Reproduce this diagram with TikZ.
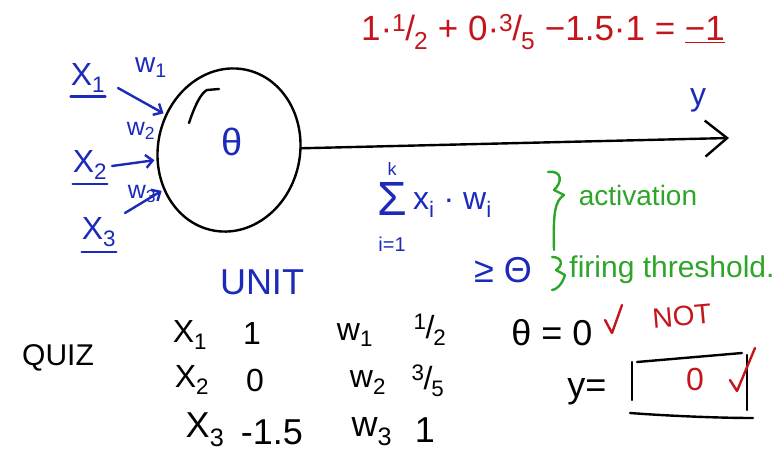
\documentclass[tikz,border=0pt]{standalone}
\usepackage{fontspec}
\setmainfont{Liberation Sans}
\usepackage{xcolor}
\usetikzlibrary{arrows.meta,shapes.geometric}

\definecolor{penblue}{RGB}{28,42,185}
\definecolor{penred}{RGB}{195,22,28}
\definecolor{pengreen}{RGB}{45,165,40}
\newcommand\hw[1]{\fontsize{#1}{#1}\selectfont}
\newcommand\slfrac[2]{\textsuperscript{#1}\kern-1pt/\kern-1pt\textsubscript{#2}}

\begin{document}
\begin{tikzpicture}[
  x=1pt,y=-1pt,
  ink/.style={line width=2.4pt,line cap=round,line join=round},
  txt/.style={inner sep=0pt,font=\hw{32}},
  bluetxt/.style={txt,text=penblue},
  redtxt/.style={txt,text=penred},
  greentxt/.style={txt,text=pengreen},
  inarr/.style={ink,penblue,shorten >=2pt,-{Straight Barb[length=7pt,width=13pt]}},
  outarr/.style={ink,-{Straight Barb[length=22pt,width=36pt]}},
  unit/.style={draw,ink,ellipse,minimum width=142pt,minimum height=164pt,rotate=-12}
]
\useasboundingbox (0,0) rectangle (782,455);

% the unit
\node[unit] (cell) at (229,150) {};
\node[bluetxt,font=\hw{38}] (theta) at (232,142) {θ};
\draw[ink] (189,123) .. controls (195,105) and (201,93) .. (207,90) -- (219,89);

% inputs and weights
\node[bluetxt] (x1) at (88,78) {X\textsubscript{1}};
\node[bluetxt] (x2) at (90,165) {X\textsubscript{2}};
\node[bluetxt] (x3) at (99,232) {X\textsubscript{3}};
\draw[ink,penblue] ([yshift=-4pt]x1.south west) -- ([yshift=-4pt]x1.south east);
\draw[ink,penblue] ([yshift=-4pt]x2.south west) -- ([yshift=-4pt]x2.south east);
\draw[ink,penblue] ([yshift=-5pt]x3.south west) -- ([yshift=-5pt]x3.south east);
\node[bluetxt,font=\hw{28}] (w1) at (151,68) {w\textsubscript{1}};
\node[bluetxt,font=\hw{25}] (w2) at (141,131) {w\textsubscript{2}};
\node[bluetxt,font=\hw{25}] (w3) at (142,194) {w\textsubscript{3}};
\coordinate (s1) at (118,88);
\coordinate (s2) at (112,166);
\coordinate (s3) at (125,213);
\draw[inarr] (s1) -- (cell);
\draw[inarr] (s2) -- (cell);
\draw[inarr] (s3) -- (cell);

% output
\coordinate (yend) at (729,138);
\draw[outarr] (cell) -- (yend);
\node[bluetxt] (yout) at (698,100) {y};

% worked example
\node[redtxt,font=\hw{35}] (calc) at (543,32) {1·\slfrac{1}{2} + 0·\slfrac{3}{5} −1.5·1 = \underline{−1}};

% activation and threshold
\node[bluetxt,align=center] (sigma) at (392,207) {{\hw{18}k}\\[6pt]{\hw{48}Σ}\\[4pt]{\hw{20}i=1}};
\node[bluetxt,anchor=west] (act) at ([xshift=6pt,yshift=2pt]sigma.east) {x\textsubscript{i} · w\textsubscript{i}};
\node[bluetxt,font=\hw{36}] (geq) at (503,270) {≥ Θ};
\draw[ink,pengreen] (548,172) .. controls (563,170) and (562,183) .. (554,190) -- (564,195)
  .. controls (555,201) and (553,212) .. (554,250);
\draw[ink,pengreen] (552,257) .. controls (563,257) and (563,266) .. (556,270) -- (565,275)
  .. controls (562,285) and (556,290) .. (552,290);
\node[greentxt,font=\hw{28}] (actlbl) at (638,195) {activation};
\node[greentxt,font=\hw{30}] (firelbl) at (672,270) {firing threshold.};

% quiz
\node[bluetxt,font=\hw{36}] (unitlbl) at (262,282) {UNIT};
\node[txt,font=\hw{30}] (quiz) at (58,358) {QUIZ};
\node[txt] (qx1) at (190,335) {X\textsubscript{1}};
\node[txt] (qv1) at (252,333) {1};
\node[txt] (qw1) at (355,335) {w\textsubscript{1}};
\node[txt] (qf1) at (430,330) {\slfrac{1}{2}};
\node[txt] (qx2) at (192,380) {X\textsubscript{2}};
\node[txt] (qv2) at (255,380) {0};
\node[txt] (qw2) at (368,383) {w\textsubscript{2}};
\node[txt] (qf2) at (428,381) {\slfrac{3}{5}};
\node[txt,font=\hw{36}] (qx3) at (205,430) {X\textsubscript{3}};
\node[txt,font=\hw{36}] (qv3) at (272,432) {-1.5};
\node[txt,font=\hw{36}] (qw3) at (372,432) {w\textsubscript{3}};
\node[txt,font=\hw{36}] (qf3) at (425,430) {1};

% answer
\node[txt,font=\hw{36}] (thz) at (552,333) {θ = 0};
\draw[ink,penred] (605,320) -- (612,333) -- (622,305);
\node[redtxt,font=\hw{28},rotate=5] (notlbl) at (682,316) {NOT};
\node[txt,font=\hw{36}] (yeq) at (587,392) {y=};
\node[redtxt,font=\hw{32}] (yval) at (695,379) {0};
\draw[ink] (632,362) -- (632,400);
\draw[ink] (637,362) -- (742,353);
\draw[ink] (747,355) -- (747,410);
\draw[ink] (630,413) .. controls (670,416) and (720,418) .. (753,418);
\draw[ink,penred] (730,380) -- (737,391) -- (755,348);

\end{tikzpicture}
\end{document}
